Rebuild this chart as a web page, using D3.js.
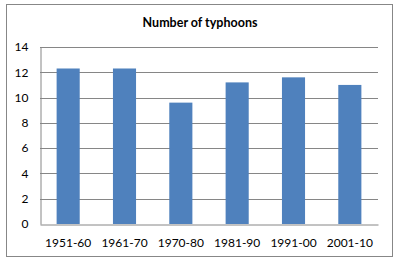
<!DOCTYPE html>
<html>
<head>
<meta charset="utf-8">
<script src="https://cdn.jsdelivr.net/npm/d3@7"></script>
<style>
  body { margin: 0; background: #fff; }
  text { font-family: Lato, "Open Sans", sans-serif; fill: #000; }
</style>
</head>
<body>
<div id="chart"></div>
<script>
// data
var decades = ["1951-60", "1961-70", "1970-80", "1981-90", "1991-00", "2001-10"];
var typhoons = [12.3, 12.3, 9.6, 11.2, 11.6, 11.0];
var yTicks = [0, 2, 4, 6, 8, 10, 12, 14];

var W = 397, H = 260;
var margin = {top: 47, right: 19, bottom: 36, left: 40},
    width = W - margin.left - margin.right,
    height = H - margin.top - margin.bottom;

var svg = d3.select("#chart")
  .append("svg")
  .attr("width", W)
  .attr("height", H);

// outer frame
svg.append("rect")
  .attr("x", 6.5).attr("y", 4.5)
  .attr("width", 386).attr("height", 252)
  .attr("fill", "#fff")
  .attr("stroke", "#878787");

// title
svg.append("text")
  .attr("x", 200).attr("y", 27)
  .attr("text-anchor", "middle")
  .style("font-size", "12.5px")
  .style("font-weight", "bold")
  .text("Number of typhoons");

var g = svg.append("g")
  .attr("transform", "translate(" + margin.left + "," + margin.top + ")");

var x = d3.scaleBand()
  .domain(decades)
  .range([0, width])
  .paddingInner(0.59)
  .paddingOuter(0.295);

var y = d3.scaleLinear()
  .domain([0, 14])
  .range([height, 0]);

// gridlines
g.selectAll("line.grid")
  .data(yTicks.filter(d => d > 0))
  .enter().append("line")
  .attr("class", "grid")
  .attr("x1", 0).attr("x2", width)
  .attr("y1", d => Math.round(y(d)) + 0.5)
  .attr("y2", d => Math.round(y(d)) + 0.5)
  .attr("stroke", "#868686");

// bars
g.selectAll("rect.bar")
  .data(typhoons)
  .enter().append("rect")
  .attr("class", "bar")
  .attr("x", (d, i) => x(decades[i]))
  .attr("width", x.bandwidth())
  .attr("y", d => y(d))
  .attr("height", d => height - y(d))
  .attr("fill", "#4F81BD");

// y axis
var yAxis = g.append("g")
  .attr("transform", "translate(0.5,0)")
  .call(d3.axisLeft(y).tickValues(yTicks).tickSize(0).tickPadding(12));
yAxis.select(".domain").attr("stroke", "#868686");
yAxis.selectAll("text").style("font-size", "12px");

// x axis
var xAxis = g.append("g")
  .attr("transform", "translate(0," + (height + 0.5) + ")")
  .call(d3.axisBottom(x).tickSize(0).tickPadding(14));
xAxis.select(".domain").attr("stroke", "#868686");
xAxis.selectAll("text").style("font-size", "12px");
</script>
</body>
</html>
